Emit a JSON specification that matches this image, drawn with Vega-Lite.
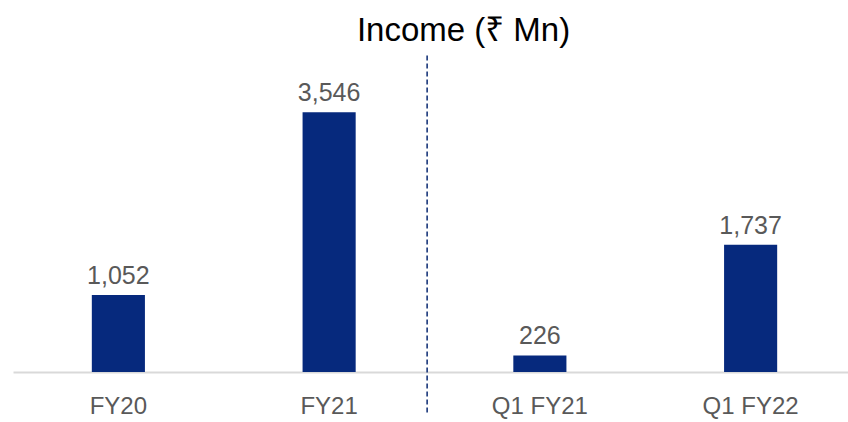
{
  "$schema": "https://vega.github.io/schema/vega-lite/v6.json",
  "width": 835,
  "height": 293,
  "autosize": {"type": "none"},
  "padding": {"left": 13, "top": 79, "right": 0, "bottom": 50},
  "background": "white",
  "config": {"view": {"stroke": null}, "font": "Liberation Sans, Noto Sans, DejaVu Sans, sans-serif"},
  "title": {
    "text": "Income (₹ Mn)",
    "fontSize": 33,
    "fontWeight": "normal",
    "color": "#000000",
    "anchor": "middle",
    "baseline": "alphabetic",
    "dx": 33,
    "dy": 24,
    "offset": 5
  },
  "layer": [
    {
      "data": {
        "values": [
          {"period": "FY20", "income": 1052},
          {"period": "FY21", "income": 3546},
          {"period": "Q1 FY21", "income": 226},
          {"period": "Q1 FY22", "income": 1737}
        ]
      },
      "encoding": {
        "x": {
          "field": "period",
          "type": "nominal",
          "sort": null,
          "scale": {"range": [0, 843], "paddingInner": 0, "paddingOuter": 0},
          "axis": {
            "title": null,
            "ticks": false,
            "tickSize": 0,
            "labelAngle": 0,
            "labelFontSize": 24,
            "labelColor": "#595959",
            "labelBaseline": "alphabetic",
            "labelPadding": 41,
            "domainColor": "#d9d9d9",
            "domainWidth": 2,
            "grid": false
          }
        },
        "y": {
          "field": "income",
          "type": "quantitative",
          "scale": {"domain": [0, 4000]},
          "axis": null
        }
      },
      "layer": [
        {"mark": {"type": "bar", "color": "#06297D", "width": {"band": 0.252}}},
        {
          "mark": {"type": "text", "baseline": "alphabetic", "dy": -11, "fontSize": 25, "color": "#595959"},
          "encoding": {"text": {"field": "income", "type": "quantitative", "format": ","}}
        }
      ]
    },
    {
      "data": {"values": [{"divider": "FY21"}]},
      "mark": {"type": "rule", "color": "#0B2A72", "strokeWidth": 1.5, "strokeDash": [5, 3]},
      "encoding": {
        "x": {"field": "divider", "type": "nominal", "bandPosition": 0.965},
        "y": {"datum": 4320},
        "y2": {"datum": -590}
      }
    }
  ]
}
